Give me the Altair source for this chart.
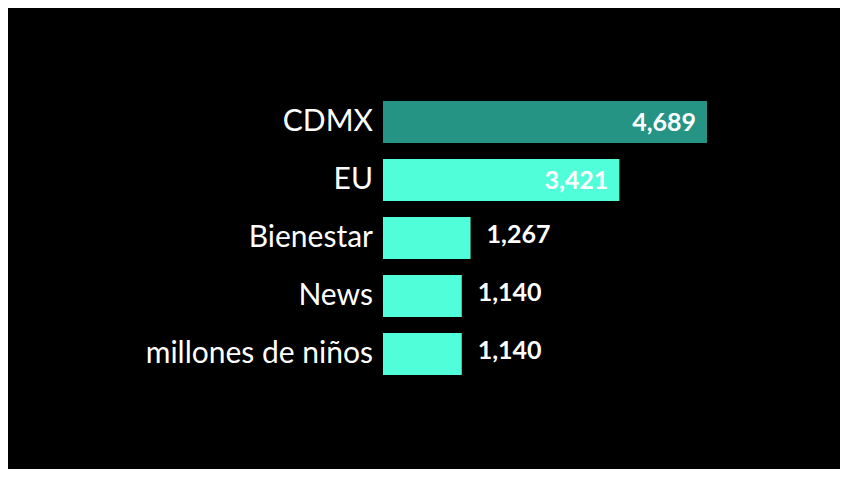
import altair as alt
import pandas as pd

categories = ["CDMX", "EU", "Bienestar", "News", "millones de niños"]
values = [4689, 3421, 1267, 1140, 1140]
value_labels = ["4,689", "3,421", "1,267", "1,140", "1,140"]

df = pd.DataFrame({"cat": categories, "value": values, "label": value_labels})

x = alt.X("value:Q", scale=alt.Scale(domain=[0, 4689], nice=False, zero=True), axis=None)
y = alt.Y("cat:N", sort=categories, axis=None,
          scale=alt.Scale(paddingInner=0.276, paddingOuter=0.138))

bars = alt.Chart(df).mark_bar().encode(
    x=x, y=y,
    color=alt.condition(alt.datum.cat == "CDMX", alt.value("#259485"), alt.value("#50FFD9")),
)

cat_labels = alt.Chart(df).mark_text(
    align="right", baseline="middle", dx=-10, dy=0, font="Lato", fontSize=30, color="white"
).encode(x=alt.value(0), y=y, text="cat:N")

inside = alt.Chart(df).transform_filter("datum.value > 2000").mark_text(
    align="right", baseline="middle", dx=-11, dy=1, font="Lato", fontWeight="bold",
    fontSize=25, color="white"
).encode(x=x, y=y, text="label:N")

outside = alt.Chart(df).transform_filter("datum.value <= 2000").mark_text(
    align="left", baseline="middle", dx=16, dy=-3, font="Lato", fontWeight="bold",
    fontSize=25, color="white"
).encode(x=x, y=y, text="label:N")

chart = alt.layer(bars, cat_labels, inside, outside).properties(
    width=324, height=290,
    padding={"left": 375, "top": 85, "right": 133, "bottom": 86},
    autosize=alt.AutoSizeParams(type="none"),
    background="black",
).configure_view(stroke=None)

chart.save("out.html", embed_options={"renderer": "svg", "actions": False})
